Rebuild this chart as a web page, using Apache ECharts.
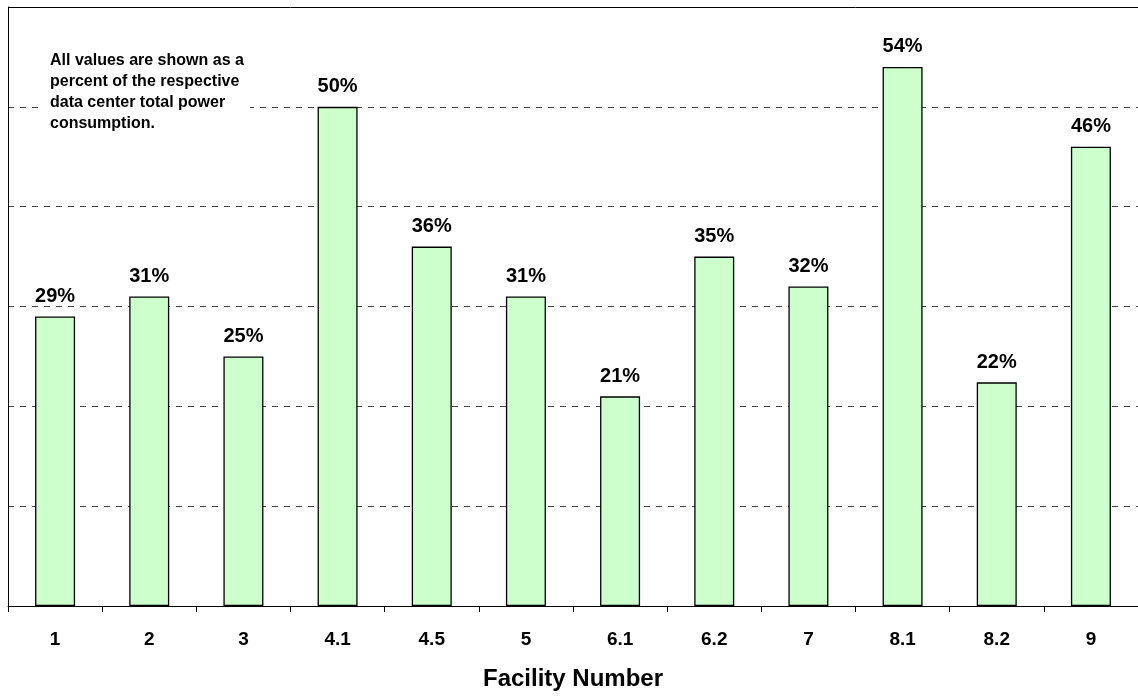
<!DOCTYPE html>
<html><head><meta charset="utf-8">
<script src="https://cdn.jsdelivr.net/npm/echarts@6/dist/echarts.min.js"></script>
<style>html,body{margin:0;padding:0;background:#fff}#c{width:1138px;height:696px}</style>
</head><body><div id="c"></div>
<script>
const categories = ['1','2','3','4.1','4.5','5','6.1','6.2','7','8.1','8.2','9'];
const values = [29, 31, 25, 50, 36, 31, 21, 35, 32, 54, 22.4, 46];
const noteLines = ['All values are shown as a','percent of the respective','data center total power','consumption.'];
const yMin = 0, yMax = 60, yInterval = 10;

const chart = echarts.init(document.getElementById('c'));
const font = '"Liberation Sans", Arial, sans-serif';
chart.setOption({
  animation: false,
  backgroundColor: '#fff',
  grid: { left: 8, top: 7, right: 0, bottom: 90 },
  xAxis: {
    type: 'category', data: categories,
    axisLine: { lineStyle: { color: '#000', width: 1 } },
    axisTick: { show: true, length: 6, lineStyle: { color: '#000' } },
    axisLabel: { color: '#000', fontWeight: 'bold', fontSize: 19, fontFamily: font, margin: 24 },
    name: 'Facility Number', nameLocation: 'middle', nameGap: 61,
    nameTextStyle: { color: '#000', fontWeight: 'bold', fontSize: 24, fontFamily: font }
  },
  yAxis: {
    type: 'value', min: yMin, max: yMax, interval: yInterval,
    axisLine: { show: true, lineStyle: { color: '#000', width: 1 } },
    axisTick: { show: false }, axisLabel: { show: false },
    splitLine: { lineStyle: { color: '#444', type: [6, 6], width: 1 } }
  },
  series: [{
    type: 'bar', data: values, barWidth: 40,
    itemStyle: { color: '#CCFFCC', borderColor: '#000', borderWidth: 1.3 },
    label: { show: true, position: 'top', distance: 10, color: '#000', fontWeight: 'bold', fontSize: 20, fontFamily: font,
      formatter: p => Math.round(p.value) + '%' }
  }],
  graphic: [
    { type: 'line', shape: { x1: 8, y1: 7.5, x2: 1138, y2: 7.5 }, style: { stroke: '#000', lineWidth: 1 }, z: 100 },
    { type: 'text', left: 44, top: 48, z: 100,
      style: { text: noteLines.join('\n'), font: 'bold 16px ' + font, fill: '#000', lineHeight: 21,
        backgroundColor: '#fff', padding: [2, 6, 2, 6] } }
  ]
});
</script></body></html>
